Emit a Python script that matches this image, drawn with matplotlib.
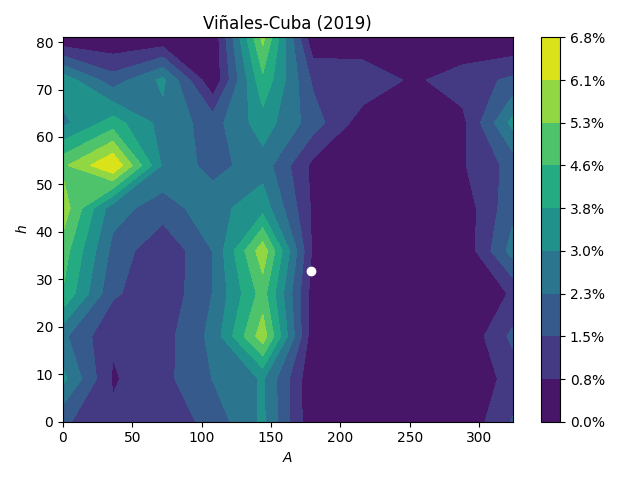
import numpy as np
import matplotlib
matplotlib.use("Agg")
import matplotlib.pyplot as plt
from matplotlib.ticker import FuncFormatter

azimuth = [0, 36, 72, 108, 144, 180, 216, 252, 288, 324]
height = [0, 9, 18, 27, 36, 45, 54, 63, 72, 81]
level_values = [0.0, 0.76, 1.52, 2.28, 3.04, 3.80, 4.56, 5.32, 6.08, 6.84]

# irradiance share (%), one row per height, one column per azimuth
h00 = [1.65, 0.90, 1.00, 1.80, 3.20, 0.10, 0.05, 0.05, 0.10, 1.58]
h09 = [3.25, 0.68, 1.27, 2.30, 3.12, 0.10, 0.05, 0.05, 0.05, 1.07]
h18 = [2.45, 0.84, 1.20, 2.50, 5.78, 0.25, 0.05, 0.05, 0.05, 1.70]
h27 = [4.50, 1.65, 0.92, 2.30, 4.90, 0.40, 0.05, 0.05, 0.05, 0.85]
h36 = [4.95, 2.05, 0.85, 2.30, 5.82, 0.63, 0.05, 0.05, 0.11, 2.60]
h45 = [5.78, 2.58, 1.90, 2.75, 3.50, 0.62, 0.05, 0.05, 0.28, 2.04]
h54 = [5.15, 6.84, 2.90, 2.00, 2.70, 0.56, 0.05, 0.05, 0.68, 1.80]
h63 = [2.82, 4.15, 2.75, 1.95, 3.45, 1.90, 0.35, 0.05, 0.55, 3.27]
h72 = [3.50, 1.85, 3.22, 0.10, 4.40, 1.40, 1.35, 0.62, 1.14, 1.68]
h81 = [0.00, 0.05, 0.06, 0.10, 5.55, 0.15, 0.10, 0.10, 0.08, 0.02]

site_A = [178.6]
site_h = [31.8]

Z = np.array([h00, h09, h18, h27, h36, h45, h54, h63, h72, h81])

fig, ax = plt.subplots(figsize=(6.4, 4.8), dpi=100)
cs = ax.contourf(azimuth, height, Z, levels=level_values, cmap="viridis", extend="neither")
ax.plot(site_A, site_h, "o", color="white")
ax.set_title("Viñales-Cuba (2019)")
ax.set_xlabel("$A$")
ax.set_ylabel("$h$")
cb = fig.colorbar(cs, ax=ax, format=FuncFormatter(lambda v, p: f"{v:.1f}%"))
fig.tight_layout()
fig.savefig("out.png", dpi=100)
